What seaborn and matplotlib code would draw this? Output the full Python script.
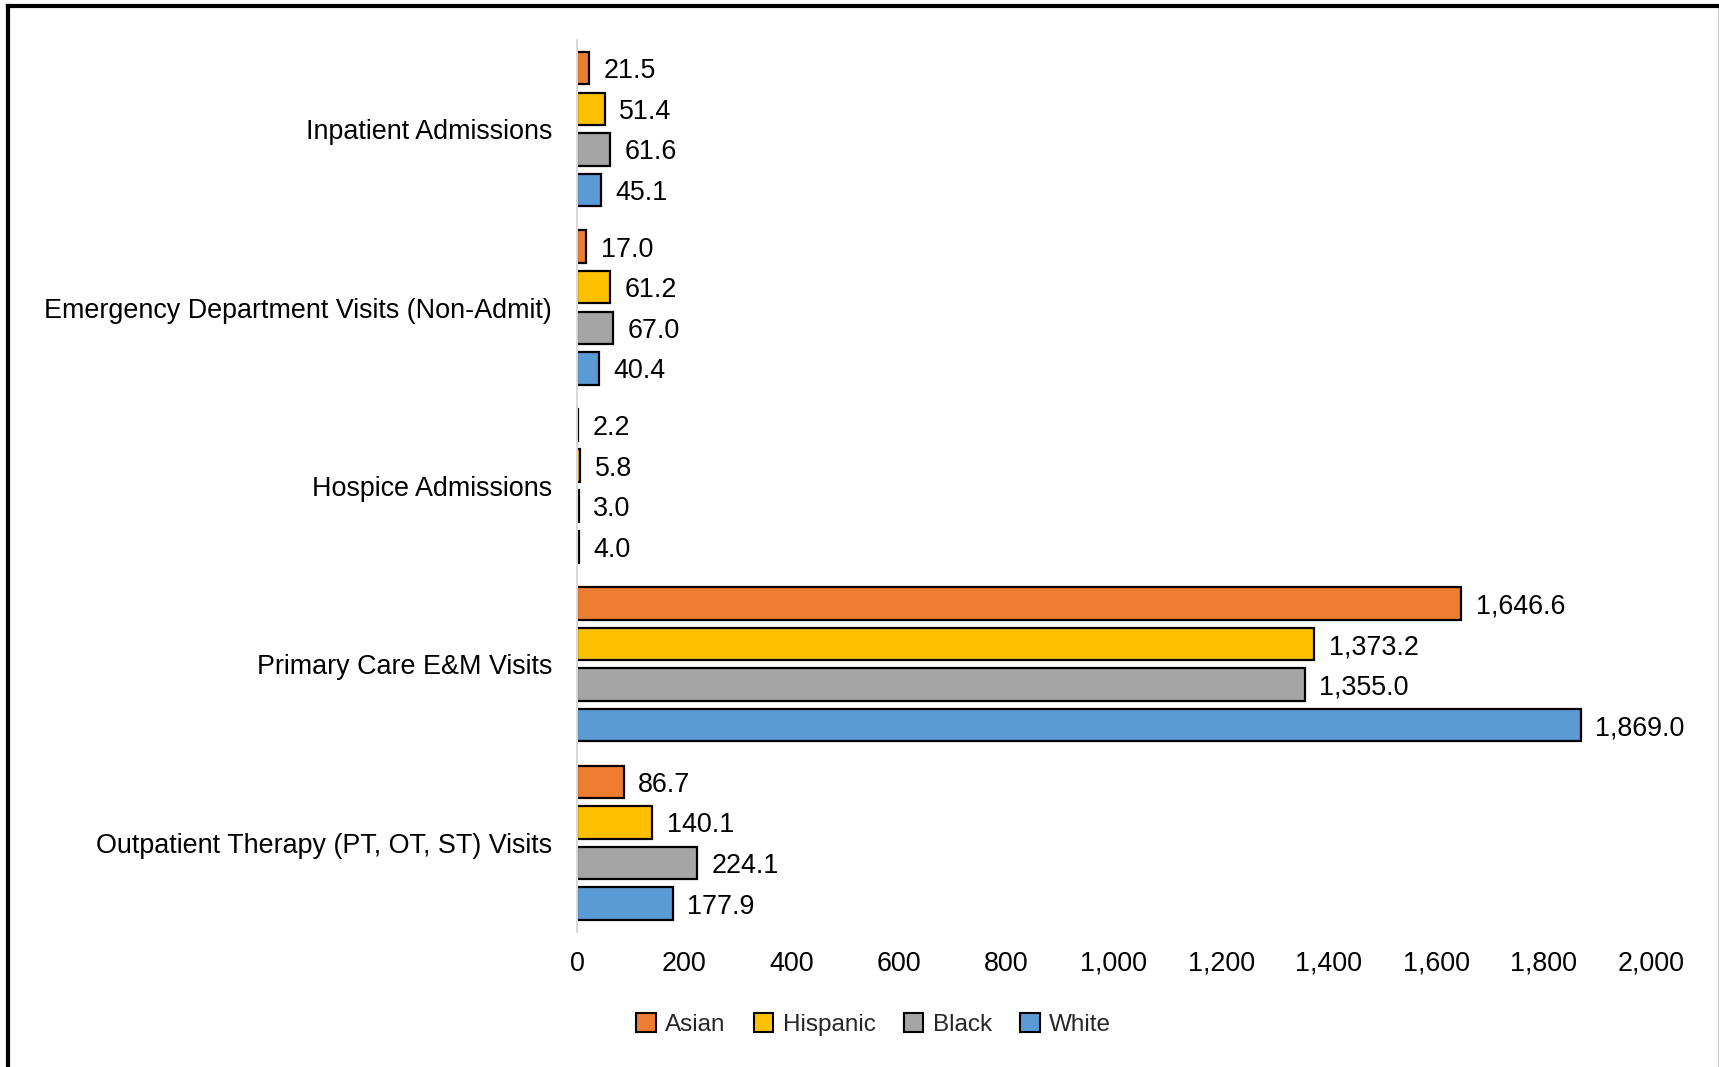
import matplotlib
matplotlib.use("Agg")
import matplotlib.pyplot as plt
import matplotlib.patches as mpatches
from matplotlib.lines import Line2D
import pandas as pd
import seaborn as sns

# Service categories (top to bottom) and rates per group
categories = [
    "Inpatient Admissions",
    "Emergency Department Visits (Non-Admit)",
    "Hospice Admissions",
    "Primary Care E&M Visits",
    "Outpatient Therapy (PT, OT, ST) Visits",
]
groups = ["Asian", "Hispanic", "Black", "White"]
asian = [21.5, 17.0, 2.2, 1646.6, 86.7]
hispanic = [51.4, 61.2, 5.8, 1373.2, 140.1]
black = [61.6, 67.0, 3.0, 1355.0, 224.1]
white = [45.1, 40.4, 4.0, 1869.0, 177.9]
colors = ["#ED7D31", "#FFC000", "#A5A5A5", "#5B9BD5"]
x_ticks = [0, 200, 400, 600, 800, 1000, 1200, 1400, 1600, 1800, 2000]

series = {"Asian": asian, "Hispanic": hispanic, "Black": black, "White": white}
rows = []
for g in groups:
    for cat, v in zip(categories, series[g]):
        rows.append({"category": cat, "group": g, "value": v})
df = pd.DataFrame(rows)

sns.set_theme(style="white")
plt.rcParams["font.family"] = ["Liberation Sans", "DejaVu Sans"]
FS = 19.4
LEG_FS = 17.5

fig = plt.figure(figsize=(17.19, 10.67), dpi=100)
ax = fig.add_axes([0.3357, 0.1266, 0.6247, 0.836])

sns.barplot(
    data=df, x="value", y="category", hue="group",
    order=categories, hue_order=groups, palette=colors, saturation=1,
    orient="h", width=0.91, gap=0.2,
    edgecolor="black", linewidth=1.6,
    legend=False, ax=ax,
)

for cont in ax.containers:
    texts = ax.bar_label(cont, labels=[f"{v:,.1f}" for v in cont.datavalues],
                         padding=10.5, fontsize=FS, color="black")
    for t in texts:
        t.set_verticalalignment("center_baseline")

ax.set_xlim(0, 2000)
ax.set_ylim(4.5, -0.5)
ax.set_xticks(x_ticks)
ax.set_xticklabels([f"{t:,}" for t in x_ticks])
ax.set_xlabel("")
ax.set_ylabel("")
ax.tick_params(axis="x", length=0, pad=13.5, labelsize=FS, colors="black")
ax.tick_params(axis="y", length=0, pad=18, labelsize=FS, colors="black")
ax.grid(False)
for side in ["top", "right", "bottom"]:
    ax.spines[side].set_visible(False)
ax.spines["left"].set_color("#D9D9D9")
ax.spines["left"].set_linewidth(1.5)

handles = [mpatches.Patch(facecolor=c, edgecolor="black", linewidth=1.5, label=g)
           for g, c in zip(groups, colors)]
fig.legend(handles=handles, loc="center", bbox_to_anchor=(0.5083, 0.040),
           ncol=4, frameon=False, fontsize=LEG_FS, handlelength=0.8,
           handleheight=0.8, handletextpad=0.4, columnspacing=1.15)

# Outer frame
fig.add_artist(Line2D([8 / 1719, 8 / 1719], [0, 1 - 6 / 1067],
                      transform=fig.transFigure, color="black", linewidth=3, solid_capstyle="projecting"))
fig.add_artist(Line2D([8 / 1719, 1], [1 - 6 / 1067, 1 - 6 / 1067],
                      transform=fig.transFigure, color="black", linewidth=3, solid_capstyle="projecting"))
fig.add_artist(Line2D([1718.5 / 1719, 1718.5 / 1719], [0, 1 - 6 / 1067],
                      transform=fig.transFigure, color="black", linewidth=1))

fig.savefig("out.png", dpi=100)
